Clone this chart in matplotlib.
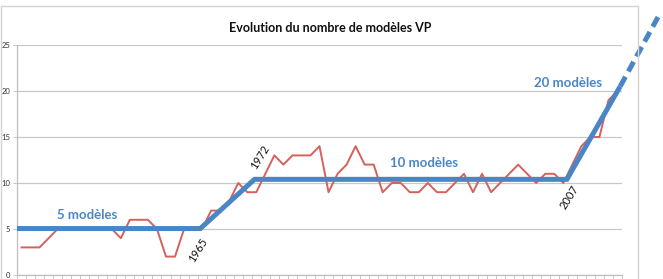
import matplotlib
matplotlib.use("Agg")
import matplotlib.pyplot as plt
from matplotlib.patches import Rectangle

# ---- data ----
years = list(range(1946, 2013))
models = [3, 3, 3, 4, 5, 5, 5, 5, 5, 5,
          5, 4, 6, 6, 6, 5, 2, 2, 5, 5,
          5, 7, 7, 8, 10, 9, 9, 11, 13, 12,
          13, 13, 13, 14, 9, 11, 12, 14, 12, 12,
          9, 10, 10, 9, 9, 10, 9, 9, 10, 11,
          9, 11, 9, 10, 11, 12, 11, 10, 11, 11,
          10, 12, 14, 15, 15, 19, 20]

trend_years = [1945.5, 1965.8, 1971.8, 2006.4, 2012.3]
trend_values = [5.05, 5.05, 10.4, 10.4, 20.5]
trend_ext_years = [2012.3, 2016.8]
trend_ext_values = [20.5, 28.6]

labels_text = ["5 modèles", "10 modèles", "20 modèles"]
labels_year = [1953.3, 1990.6, 2006.5]
labels_value = [6.5, 12.2, 20.9]

year_marks = ["1965", "1972", "2007"]
year_marks_x = [1965.5, 1972.4, 2006.7]
year_marks_y = [2.7, 12.8, 8.5]

yticks = [0, 5, 10, 15, 20, 25]

title = "Evolution du nombre de modèles VP"

# ---- figure ----
W, H = 663, 279
fig = plt.figure(figsize=(W / 100, H / 100), dpi=100)
fig.patch.set_facecolor("white")

# outer chart border
fig.patches.append(Rectangle((1 / W, -0.1), 637 / W, (H - 6) / H + 0.1,
                             transform=fig.transFigure, fill=False,
                             edgecolor="#d4d4d4", linewidth=1.0, zorder=0))

ax = fig.add_axes([17 / W, 4 / H, 605 / W, 230 / H])
ax.set_xlim(years[0] - 0.5, years[-1] + 0.5)
ax.set_ylim(0, 25)

ax.set_yticks(yticks)
ax.set_yticklabels([str(v) for v in yticks], fontsize=5.5, family="Lato",
                   color="#333333")
ax.tick_params(axis="y", length=3, width=0.6, color="#bfbfbf", pad=2)
ax.set_xticks([y - 0.5 for y in years] + [years[-1] + 0.5])
ax.set_xticklabels([])
ax.tick_params(axis="x", length=3, width=0.6, color="#bfbfbf", direction="out")
ax.grid(axis="y", color="#c8c8c8", linewidth=0.9)
ax.set_axisbelow(True)
for s in ["top", "right"]:
    ax.spines[s].set_visible(False)
for s in ["left", "bottom"]:
    ax.spines[s].set_color("#bfbfbf")
    ax.spines[s].set_linewidth(0.9)

red = "#d6605c"
blue = "#4a86c5"
ax.plot(years, models, color=red, linewidth=1.4, zorder=3)
ax.plot(trend_years, trend_values, color=blue, linewidth=3.6, zorder=4,
        solid_capstyle="butt", solid_joinstyle="miter")
ax.plot(trend_ext_years, trend_ext_values, color=blue, linewidth=3.6,
        linestyle=(0, (2.2, 1.2)), zorder=4, clip_on=False)

for t, x, y in zip(labels_text, labels_year, labels_value):
    ax.text(x, y, t, color=blue, fontsize=9.5, fontweight="bold",
            family="Lato", ha="center", va="center", zorder=5)

for t, x, y in zip(year_marks, year_marks_x, year_marks_y):
    ax.text(x, y, t, color="#111111", fontsize=8, family="Lato",
            rotation=58, ha="center", va="center", zorder=5)

fig.text(330 / W, 1 - 28 / H, title, fontsize=9, fontweight="bold",
         family="Lato", ha="center", va="center", color="#111111")

fig.savefig("out.png", dpi=100)
